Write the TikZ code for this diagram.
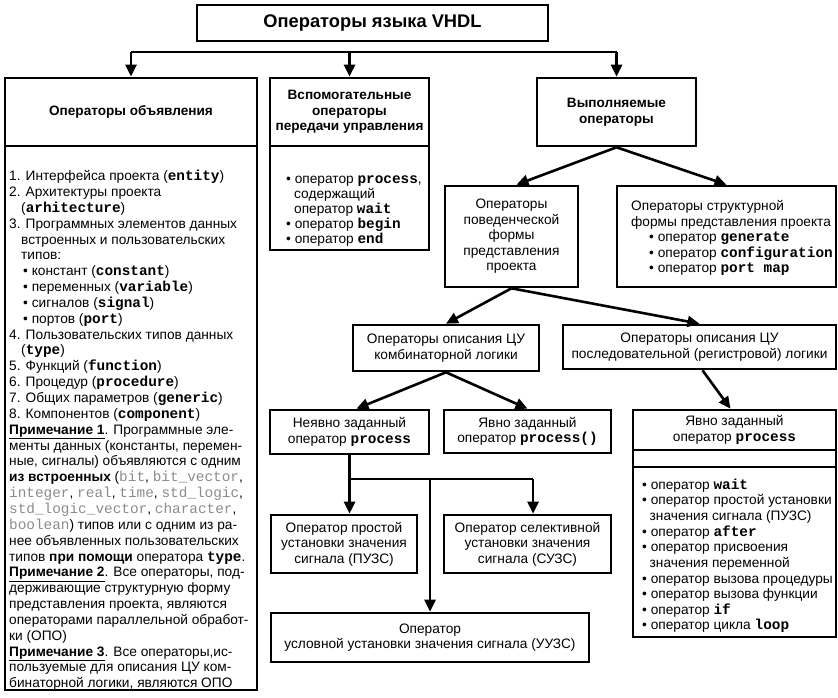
\documentclass[tikz,border=0pt]{standalone}
\usepackage{fontspec}
\setmainfont{Liberation Sans}
\setmonofont[Scale=1.05]{Liberation Mono}
\usetikzlibrary{arrows.meta,calc}
\newcommand\kw[1]{\texttt{\bfseries #1}}
\newcommand\gk[1]{\textcolor{black!45}{\texttt{#1}}}
\newcommand\bl{\textbullet\ }
\begin{document}
\begin{tikzpicture}[x=1pt,y=-1pt,
  box/.style={draw, line width=2.6pt, inner sep=0pt, align=center, font=\fontsize{13.7}{15.5}\selectfont},
  hdr/.style={box, font=\bfseries\fontsize{13.6}{15.5}\selectfont},
  arr/.style={line width=2.6pt, -{Triangle[length=12pt,width=11pt]}},
  ln/.style={line width=2.6pt},
  txt/.style={inner sep=0pt, align=left, anchor=north west, font=\fontsize{13.7}{15.6}\selectfont}]
\useasboundingbox (0,0) rectangle (838,698);

% boxes
\node[hdr, minimum width=351pt, minimum height=36pt, font=\bfseries\fontsize{18.3}{21}\selectfont] (title) at (372.5,23) {Операторы языка VHDL};
\node[hdr, minimum width=252pt, minimum height=68pt] (decl) at (131,112) {Операторы объявления};
\node[box, minimum width=252pt, minimum height=544pt] (decllist) at (131,418) {};
\node[hdr, minimum width=159pt, minimum height=68pt] (aux) at (349.5,112) {Вспомогательные\\операторы\\передачи управления};
\node[box, minimum width=159pt, minimum height=104pt] (auxlist) at (349.5,198) {};
\node[hdr, minimum width=159pt, minimum height=68pt] (exec) at (616.5,112) {Выполняемые\\операторы};
\node[box, minimum width=133pt, minimum height=101pt] (behav) at (511.5,236.5) {Операторы\\поведенческой\\формы\\представления\\проекта};
\node[box, minimum width=219pt, minimum height=101pt] (struct) at (726.5,236.5) {};
\node[box, minimum width=186pt, minimum height=46pt] (comb) at (446,348) {Операторы описания ЦУ\\комбинаторной логики};
\node[box, minimum width=273pt, minimum height=44pt] (seq) at (699.5,347) {Операторы описания ЦУ\\последовательной (регистровой) логики};
\node[box, minimum width=159pt, minimum height=44pt] (impl) at (349.5,432) {Неявно заданный\\оператор \kw{process}};
\node[box, minimum width=167pt, minimum height=43pt] (expl) at (527.5,431.5) {Явно заданный\\оператор \kw{process()}};
\node[box, minimum width=203pt, minimum height=40pt] (expl2) at (734.5,430) {Явно заданный\\оператор \kw{process}};
\node[box, minimum width=203pt, minimum height=17pt] (band) at (734.5,458.5) {};
\node[box, minimum width=203pt, minimum height=170pt] (expl2list) at (734.5,552) {};
\node[box, minimum width=146pt, minimum height=58pt] (puzs) at (344,544) {Оператор простой\\установки значения\\сигнала (ПУЗС)};
\node[box, minimum width=167pt, minimum height=58pt] (suzs) at (527.5,544) {Оператор селективной\\установки значения\\сигнала (СУЗС)};
\node[box, minimum width=318pt, minimum height=49pt] (uuzs) at (430,637.5) {Оператор\\условной установки значения сигнала (УУЗС)};

% list texts
\node[txt, font=\fontsize{13.7}{15.85}\selectfont] (decltxt) at (9,170) {%
1. Интерфейса проекта (\kw{entity})\\
2. Архитектуры проекта\\
\hspace*{12pt}(\kw{arhitecture})\\
3. Программных элементов данных\\
\hspace*{12pt}встроенных и пользовательских\\
\hspace*{12pt}типов:\\
\hspace*{14pt}\bl констант (\kw{constant})\\
\hspace*{14pt}\bl переменных (\kw{variable})\\
\hspace*{14pt}\bl сигналов (\kw{signal})\\
\hspace*{14pt}\bl портов (\kw{port})\\
4. Пользовательских типов данных\\
\hspace*{12pt}(\kw{type})\\
5. Функций (\kw{function})\\
6. Процедур (\kw{procedure})\\
7. Общих параметров (\kw{generic})\\
8. Компонентов (\kw{component})\\
\underline{\textbf{Примечание 1}}. Программные эле-\\
менты данных (константы, перемен-\\
ные, сигналы) объявляются с одним\\
\textbf{из встроенных} (\gk{bit}, \gk{bit\_vector},\\
\gk{integer}, \gk{real}, \gk{time}, \gk{std\_logic},\\
\gk{std\_logic\_vector}, \gk{character},\\
\gk{boolean}) типов или с одним из ра-\\
нее объявленных пользовательских\\
типов \textbf{при помощи} оператора \kw{type}.\\
\underline{\textbf{Примечание 2}}. Все операторы, под-\\
держивающие структурную форму\\
представления проекта, являются\\
операторами параллельной обработ-\\
ки (ОПО)\\
\underline{\textbf{Примечание 3}}. Все операторы,ис-\\
пользуемые для описания ЦУ ком-\\
бинаторной логики, являются ОПО};

\node[txt, font=\fontsize{13.7}{15}\selectfont] (auxtxt) at (286,175.5) {%
\bl оператор \kw{process},\\
\hspace*{8pt}содержащий\\
\hspace*{8pt}оператор \kw{wait}\\
\bl оператор \kw{begin}\\
\bl оператор \kw{end}};

\node[txt, font=\fontsize{13.7}{15.5}\selectfont] (structtxt) at (631,200.5) {%
Операторы структурной\\
формы представления проекта\\
\hspace*{18pt}\bl оператор \kw{generate}\\
\hspace*{18pt}\bl оператор \kw{configuration}\\
\hspace*{18pt}\bl оператор \kw{port map}};

\node[txt, font=\fontsize{13.7}{15.65}\selectfont] (expl2txt) at (642,478.5) {%
\bl оператор \kw{wait}\\
\bl оператор простой установки\\
\hspace*{7.5pt}значения сигнала (ПУЗС)\\
\bl оператор \kw{after}\\
\bl оператор присвоения\\
\hspace*{7.5pt}значения переменной\\
\bl оператор вызова процедуры\\
\bl оператор вызова функции\\
\bl оператор \kw{if}\\
\bl оператор цикла \kw{loop}};

% connectors
\coordinate (bus) at (0,52);
\coordinate (junc) at (0,479);
\coordinate (sz) at (533,0);
\draw[ln] (decl.north |- bus) -- (exec.north |- bus);
\draw[arr] (decl.north |- bus) -- (decl.north);
\draw[arr] (aux.north |- bus) -- (aux.north);
\draw[arr] (exec.north |- bus) -- (exec.north);
\draw[arr] (exec.south) -- ([xshift=5pt]behav.north);
\draw[arr] (exec.south) -- (struct.north);
\draw[arr] (behav.south) -- (comb.north);
\draw[arr] (behav.south) -- (seq.north);
\draw[arr] (comb.south) -- ([xshift=7pt]impl.north);
\draw[arr] (comb.south) -- (expl.north);
\draw[arr] ([xshift=3pt]seq.south) -- ([xshift=-4pt]expl2.north);
\draw[arr] (impl.south) -- (impl.south |- puzs.north);
\draw[ln] (impl.south |- junc) -- (sz |- junc);
\draw[arr] (sz |- junc) -- (sz |- suzs.north);
\draw[arr] (uuzs.north |- junc) -- (uuzs.north);
\end{tikzpicture}
\end{document}
